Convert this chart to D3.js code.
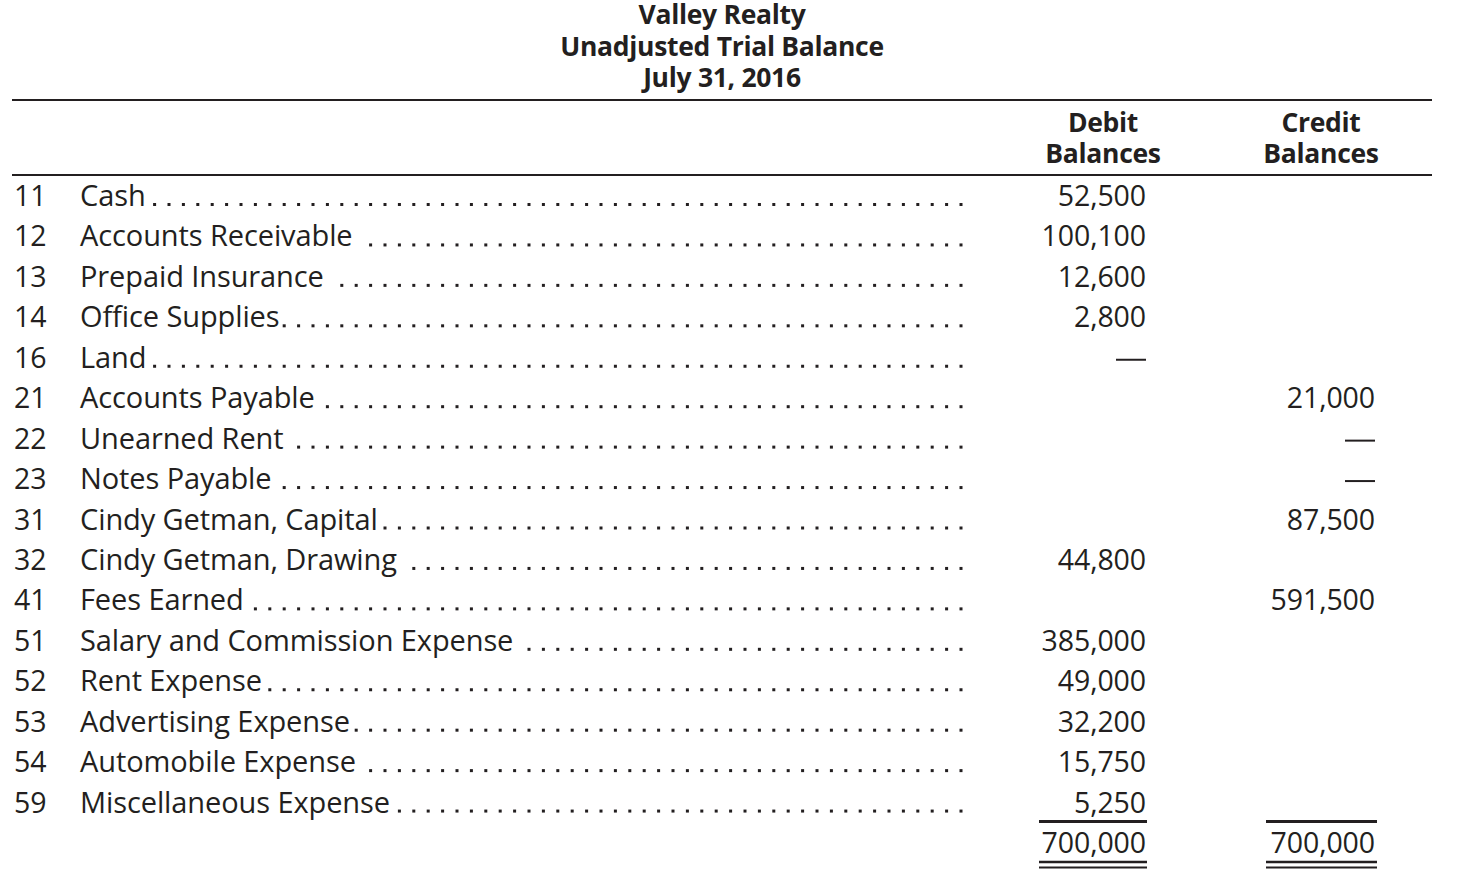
<!DOCTYPE html>
<html>
<head>
<meta charset="utf-8">
<script src="https://cdn.jsdelivr.net/npm/d3@7"></script>
<style>
  body { margin: 0; background: #fff; }
  svg text { font-family: "Open Sans", "Noto Sans", sans-serif; fill: #231f20; }
</style>
</head>
<body>
<svg id="tb" width="1457" height="873"></svg>
<script>
const titleLines = ["Valley Realty", "Unadjusted Trial Balance", "July 31, 2016"];
const columnHeads = [["Debit", "Balances"], ["Credit", "Balances"]];

const accountNumbers = ["11", "12", "13", "14", "16", "21", "22", "23", "31", "32", "41", "51", "52", "53", "54", "59"];
const accountNames = ["Cash", "Accounts Receivable", "Prepaid Insurance", "Office Supplies", "Land",
  "Accounts Payable", "Unearned Rent", "Notes Payable", "Cindy Getman, Capital", "Cindy Getman, Drawing",
  "Fees Earned", "Salary and Commission Expense", "Rent Expense", "Advertising Expense",
  "Automobile Expense", "Miscellaneous Expense"];
// null = blank, 0 = dash
const debits = [52500, 100100, 12600, 2800, 0, null, null, null, null, 44800, null, 385000, 49000, 32200, 15750, 5250];
const credits = [null, null, null, null, null, 21000, 0, 0, 87500, null, 591500, null, null, null, null, null];
const totals = [700000, 700000];

const svg = d3.select("#tb");
const ink = "#231f20";
const fmt = d3.format(",");

// rows: accounts + total line
const y = d3.scalePoint()
  .domain(d3.range(accountNames.length + 1))
  .range([196, 843]);

// numeric columns (right edges)
const col = d3.scaleOrdinal().domain(["debit", "credit"]).range([1146, 1375]);
const colCenter = d3.scaleOrdinal().domain([0, 1]).range([1103, 1321]);

// title
svg.selectAll("text.title")
  .data(titleLines)
  .join("text")
  .attr("class", "title")
  .attr("x", 722)
  .attr("y", (d, i) => 24 + i * 31.5)
  .attr("text-anchor", "middle")
  .style("font-size", "26.5px")
  .style("font-weight", "bold")
  .style("letter-spacing", "-0.3px")
  .text(d => d);

// rules
svg.append("line").attr("x1", 12).attr("x2", 1432).attr("y1", 100).attr("y2", 100)
  .attr("stroke", ink).attr("stroke-width", 2);
svg.append("line").attr("x1", 12).attr("x2", 1432).attr("y1", 175).attr("y2", 175)
  .attr("stroke", ink).attr("stroke-width", 2);

// column heads
columnHeads.forEach((h, i) => {
  svg.append("text")
    .attr("x", colCenter(i)).attr("y", 132).attr("text-anchor", "middle")
    .style("font-size", "26.5px").style("font-weight", "bold").style("letter-spacing", "-0.3px")
    .text(h[0]);
  svg.append("text")
    .attr("x", colCenter(i)).attr("y", 163).attr("text-anchor", "middle")
    .style("font-size", "26.5px").style("font-weight", "bold").style("letter-spacing", "-0.3px")
    .text(h[1]);
});

const base = 10; // baseline offset from row centre
const rows = svg.append("g");

rows.selectAll("text.num")
  .data(accountNumbers)
  .join("text")
  .attr("class", "num")
  .attr("x", 14)
  .attr("y", (d, i) => y(i) + base)
  .style("font-size", "28.5px")
  .text(d => d);

const labels = rows.selectAll("text.name")
  .data(accountNames)
  .join("text")
  .attr("class", "name")
  .attr("x", 80)
  .attr("y", (d, i) => y(i) + base)
  .style("font-size", "29px")
  .style("letter-spacing", "-0.1px")
  .text(d => d);

// dot leaders on a fixed grid
const dotStep = 14.4, dotEnd = 961;
labels.each(function(d, i) {
  const end = 80 + this.getComputedTextLength();
  const xs = [];
  for (let x = dotEnd; x > end + 4; x -= dotStep) xs.push(x);
  rows.append("g").selectAll("rect")
    .data(xs)
    .join("rect")
    .attr("x", x => x - 1.5)
    .attr("y", y(i) + base - 3)
    .attr("width", 3)
    .attr("height", 3)
    .attr("fill", ink);
});

function drawColumn(values, key) {
  values.forEach((v, i) => {
    if (v === null) return;
    if (v === 0) {
      rows.append("line")
        .attr("x1", col(key) - 30).attr("x2", col(key))
        .attr("y1", y(i) + 2).attr("y2", y(i) + 2)
        .attr("stroke", ink).attr("stroke-width", 2);
      return;
    }
    rows.append("text")
      .attr("x", col(key))
      .attr("y", y(i) + base)
      .attr("text-anchor", "end")
      .style("font-size", "28.5px")
      .style("letter-spacing", "-0.1px")
      .text(fmt(v));
  });
}
drawColumn(debits, "debit");
drawColumn(credits, "credit");

// totals
const tRow = accountNames.length;
[["debit", totals[0], 1039, 1147], ["credit", totals[1], 1266, 1377]].forEach(([key, v, x1, x2]) => {
  rows.append("line").attr("x1", x1).attr("x2", x2).attr("y1", 821.5).attr("y2", 821.5)
    .attr("stroke", ink).attr("stroke-width", 3);
  rows.append("text")
    .attr("x", col(key))
    .attr("y", y(tRow) + base)
    .attr("text-anchor", "end")
    .style("font-size", "28.5px")
    .style("letter-spacing", "-0.1px")
    .text(fmt(v));
  rows.append("line").attr("x1", x1).attr("x2", x2).attr("y1", 862).attr("y2", 862)
    .attr("stroke", ink).attr("stroke-width", 2.5);
  rows.append("line").attr("x1", x1).attr("x2", x2).attr("y1", 867.5).attr("y2", 867.5)
    .attr("stroke", ink).attr("stroke-width", 2);
});
</script>
</body>
</html>
